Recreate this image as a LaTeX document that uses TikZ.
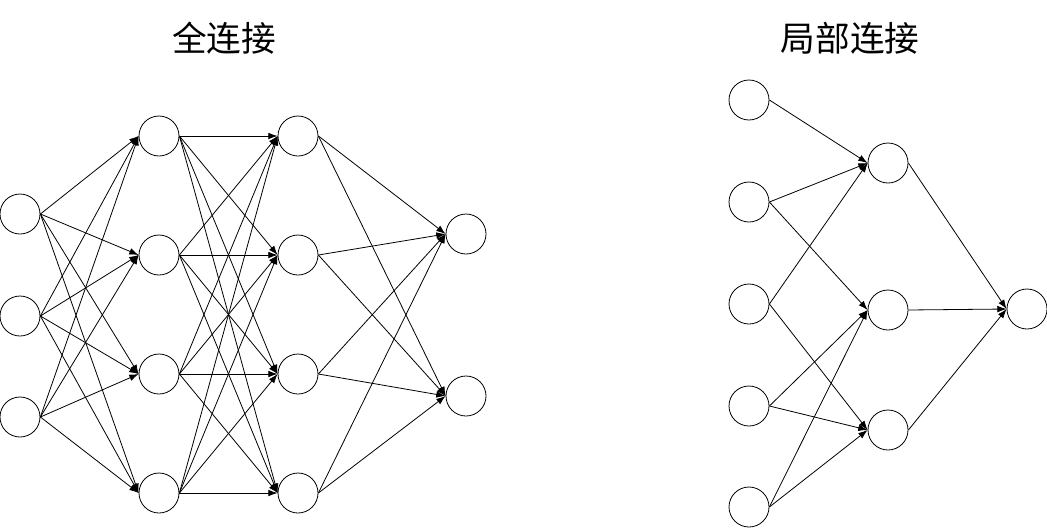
\documentclass[tikz,border=0pt]{standalone}
\usepackage{fontspec}
\newfontfamily\cjk{Noto Sans CJK SC}
\usetikzlibrary{arrows.meta}

\begin{document}
\begin{tikzpicture}[x=0.75pt,y=-0.75pt,
  nd/.style={draw,circle,minimum size=30pt,inner sep=0pt,line width=0.6pt},
  ar/.style={line width=0.6pt,-{Latex[length=7pt,width=5pt]}},
  ttl/.style={font=\cjk\fontsize{26}{30}\selectfont}]
\useasboundingbox (0,0) rectangle (1047,529);
% column x positions (px)
\def\xa{20}\def\xb{159}\def\xc{298}\def\xd{466}
\def\xp{749}\def\xq{888}\def\xr{1027}
%------------- full connection
\node[ttl] (t1) at (224,38) {全连接};
\node[nd] (a1) at (\xa,214) {}; \node[nd] (a2) at (\xa,316) {}; \node[nd] (a3) at (\xa,417) {};
\node[nd] (b1) at (\xb,136) {}; \node[nd] (b2) at (\xb,255) {}; \node[nd] (b3) at (\xb,374) {}; \node[nd] (b4) at (\xb,493) {};
\node[nd] (c1) at (\xc,136) {}; \node[nd] (c2) at (\xc,255) {}; \node[nd] (c3) at (\xc,374) {}; \node[nd] (c4) at (\xc,493) {};
\node[nd] (d1) at (\xd,234) {}; \node[nd] (d2) at (\xd,396) {};
% a -> b
\draw[ar] (a1.east) -- (b1.west); \draw[ar] (a1.east) -- (b2.west); \draw[ar] (a1.east) -- (b3.west); \draw[ar] (a1.east) -- (b4.west);
\draw[ar] (a2.east) -- (b1.west); \draw[ar] (a2.east) -- (b2.west); \draw[ar] (a2.east) -- (b3.west); \draw[ar] (a2.east) -- (b4.west);
\draw[ar] (a3.east) -- (b1.west); \draw[ar] (a3.east) -- (b2.west); \draw[ar] (a3.east) -- (b3.west); \draw[ar] (a3.east) -- (b4.west);
% b -> c
\draw[ar] (b1.east) -- (c1.west); \draw[ar] (b1.east) -- (c2.west); \draw[ar] (b1.east) -- (c3.west); \draw[ar] (b1.east) -- (c4.west);
\draw[ar] (b2.east) -- (c1.west); \draw[ar] (b2.east) -- (c2.west); \draw[ar] (b2.east) -- (c3.west); \draw[ar] (b2.east) -- (c4.west);
\draw[ar] (b3.east) -- (c1.west); \draw[ar] (b3.east) -- (c2.west); \draw[ar] (b3.east) -- (c3.west); \draw[ar] (b3.east) -- (c4.west);
\draw[ar] (b4.east) -- (c1.west); \draw[ar] (b4.east) -- (c2.west); \draw[ar] (b4.east) -- (c3.west); \draw[ar] (b4.east) -- (c4.west);
% c -> d
\draw[ar] (c1.east) -- (d1.west); \draw[ar] (c1.east) -- (d2.west);
\draw[ar] (c2.east) -- (d1.west); \draw[ar] (c2.east) -- (d2.west);
\draw[ar] (c3.east) -- (d1.west); \draw[ar] (c3.east) -- (d2.west);
\draw[ar] (c4.east) -- (d1.west); \draw[ar] (c4.east) -- (d2.west);
%------------- local connection
\node[ttl] (t2) at (850,38) {局部连接};
\node[nd] (p1) at (\xp,100) {}; \node[nd] (p2) at (\xp,202) {}; \node[nd] (p3) at (\xp,304) {};
\node[nd] (p4) at (\xp,406) {}; \node[nd] (p5) at (\xp,507) {};
\node[nd] (q1) at (\xq,163) {}; \node[nd] (q2) at (\xq,310) {}; \node[nd] (q3) at (\xq,430) {};
\node[nd] (r1) at (\xr,309) {};
\draw[ar] (p1.east) -- (q1.west);
\draw[ar] (p2.east) -- (q1.west); \draw[ar] (p2.east) -- (q2.west);
\draw[ar] (p3.east) -- (q1.west); \draw[ar] (p3.east) -- (q3.west);
\draw[ar] (p4.east) -- (q2.west); \draw[ar] (p4.east) -- (q3.west);
\draw[ar] (p5.east) -- (q2.west); \draw[ar] (p5.east) -- (q3.west);
\draw[ar] (q1.east) -- (r1.west); \draw[ar] (q2.east) -- (r1.west); \draw[ar] (q3.east) -- (r1.west);
\end{tikzpicture}
\end{document}
